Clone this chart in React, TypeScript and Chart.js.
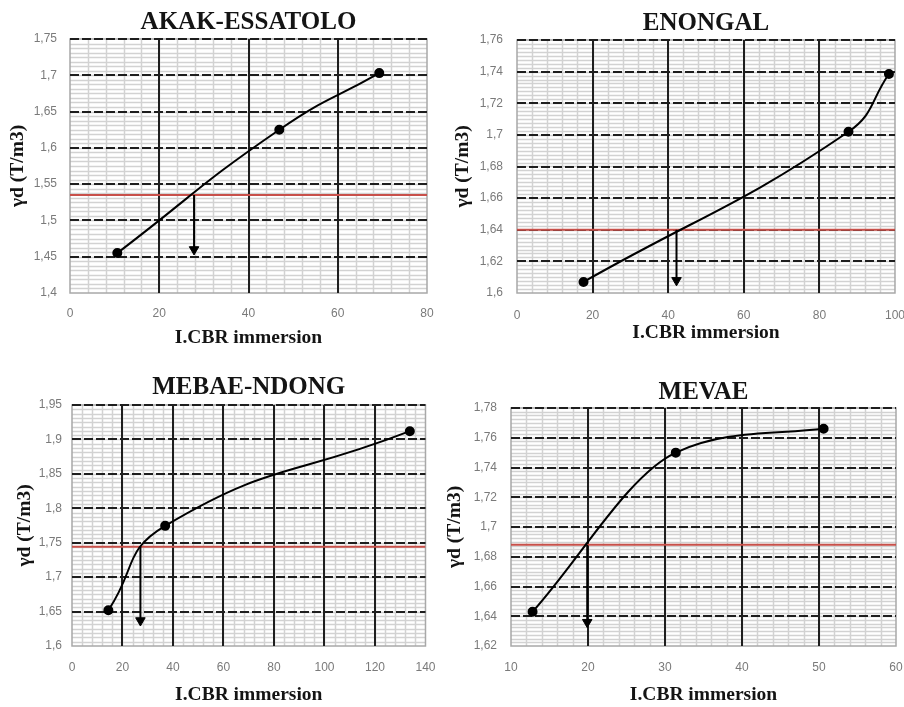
import React, { useEffect, useRef } from 'react';
import { Chart, registerables } from 'chart.js';

Chart.register(...registerables);

// ---------- DATA ----------
// AKAK-ESSATOLO
const akakCbr = [10.6, 46.9, 69.3];
const akakDensity = [1.455, 1.625, 1.703];
const akakRefLine = [1.535]; // horizontal reference density
const akakArrow = [27.8, 1.46]; // [CBR read, arrow end density]
const akakXTicks = [0, 20, 40, 60, 80];
const akakYTicks = [1.4, 1.45, 1.5, 1.55, 1.6, 1.65, 1.7, 1.75];

// ENONGAL
const enongalCbr = [17.6, 87.7, 98.4];
const enongalDensity = [1.607, 1.702, 1.7385];
const enongalRefLine = [1.64];
const enongalArrow = [42.2, 1.608];
const enongalXTicks = [0, 20, 40, 60, 80, 100];
const enongalYTicks = [1.6, 1.62, 1.64, 1.66, 1.68, 1.7, 1.72, 1.74, 1.76];

// MEBAE-NDONG
const mebaeCbr = [14.4, 36.9, 133.8];
const mebaeDensity = [1.652, 1.7745, 1.912];
const mebaeRefLine = [1.744];
const mebaeArrow = [27.1, 1.637];
const mebaeXTicks = [0, 20, 40, 60, 80, 100, 120, 140];
const mebaeYTicks = [1.6, 1.65, 1.7, 1.75, 1.8, 1.85, 1.9, 1.95];

// MEVAE
const mevaeCbr = [12.8, 31.4, 50.6];
const mevaeDensity = [1.643, 1.75, 1.766];
const mevaeRefLine = [1.688];
const mevaeArrow = [19.9, 1.636];
const mevaeXTicks = [10, 20, 30, 40, 50, 60];
const mevaeYTicks = [1.62, 1.64, 1.66, 1.68, 1.7, 1.72, 1.74, 1.76, 1.78];

const X_TITLE = 'I.CBR immersion';
const Y_TITLE = 'γd (T/m3)';

// ---------- LAYOUT ----------
const panels = [
  {
    title: 'AKAK-ESSATOLO', cbr: akakCbr, density: akakDensity, ref: akakRefLine, arrow: akakArrow,
    xTicks: akakXTicks, yTicks: akakYTicks, mode: 'default', tension: 0.5,
    box: { left: 0, top: 0, width: 450, height: 350 },
    yWidth: 70, padRight: 23, titleTop: 8, titleBottom: 1, xHeight: 57,
    xTickPad: 13, xTitlePb: 0.3, yTitlePt: 6.5, yTickPad: 13, xSub: 5, ySub: 8,
  },
  {
    title: 'ENONGAL', cbr: enongalCbr, density: enongalDensity, ref: enongalRefLine, arrow: enongalArrow,
    xTicks: enongalXTicks, yTicks: enongalYTicks, mode: 'default', tension: 0.45,
    box: { left: 450, top: 0, width: 470, height: 350 },
    yWidth: 67, padRight: 24, titleTop: 8.5, titleBottom: 1.5, xHeight: 57,
    xTickPad: 15, xTitlePb: 5, yTitlePt: 1.2, yTickPad: 14, xSub: 5, ySub: 8,
  },
  {
    title: 'MEBAE-NDONG', cbr: mebaeCbr, density: mebaeDensity, ref: mebaeRefLine, arrow: mebaeArrow,
    xTicks: mebaeXTicks, yTicks: mebaeYTicks, mode: 'default', tension: 0.5,
    box: { left: 0, top: 360, width: 450, height: 347 },
    yWidth: 72, padRight: 22, titleTop: 12.7, titleBottom: 2.3, xHeight: 61,
    xTickPad: 14.5, xTitlePb: 0, yTitlePt: 13.2, yTickPad: 10, xSub: 5, ySub: 8,
  },
  {
    title: 'MEVAE', cbr: mevaeCbr, density: mevaeDensity, ref: mevaeRefLine, arrow: mevaeArrow,
    xTicks: mevaeXTicks, yTicks: mevaeYTicks, mode: 'monotone', tension: 0.5,
    box: { left: 440, top: 360, width: 480, height: 347 },
    yWidth: 71, padRight: 24, titleTop: 18, titleBottom: 0, xHeight: 61,
    xTickPad: 14.5, xTitlePb: 0, yTitlePt: 3.2, yTickPad: 14, xSub: 5, ySub: 8,
  },
];

const fmt = (v: number) => String(Math.round(v * 1000) / 1000).replace('.', ',');

const minorGridPlugin = {
  id: 'minorGrid',
  beforeDraw(chart: any, _args: any, opts: any) {
    const { ctx, chartArea: a } = chart;
    const xs = chart.scales.x;
    const ys = chart.scales.y;
    ctx.save();
    ctx.strokeStyle = '#d2d2d2';
    ctx.lineWidth = 1.5;
    const xStep = opts.xMajor / opts.xSub;
    const nx = Math.round((xs.max - xs.min) / xStep);
    for (let i = 1; i < nx; i++) {
      const px = Math.round(xs.getPixelForValue(xs.min + i * xStep)) + 0.5;
      ctx.beginPath();
      ctx.moveTo(px, a.top);
      ctx.lineTo(px, a.bottom);
      ctx.stroke();
    }
    const yStep = opts.yMajor / opts.ySub;
    const ny = Math.round((ys.max - ys.min) / yStep);
    for (let i = 1; i < ny; i++) {
      const py = Math.round(ys.getPixelForValue(ys.min + i * yStep)) + 0.5;
      ctx.beginPath();
      ctx.moveTo(a.left, py);
      ctx.lineTo(a.right, py);
      ctx.stroke();
    }
    ctx.strokeStyle = '#a8a8a8';
    ctx.lineWidth = 1.5;
    ctx.strokeRect(a.left, a.top, a.right - a.left, a.bottom - a.top);
    ctx.restore();
  },
};

function Panel({ p }: { p: any }) {
  const ref = useRef<HTMLCanvasElement>(null);
  useEffect(() => {
    const canvas = ref.current!;
    const xMin = p.xTicks[0];
    const xMax = p.xTicks[p.xTicks.length - 1];
    const yMin = p.yTicks[0];
    const yMax = p.yTicks[p.yTicks.length - 1];
    const tickFont = { family: 'Liberation Sans', size: 12 };
    const titleFont = { family: 'Liberation Serif', size: 19.5, weight: 'bold' as const, lineHeight: 1.2 };
    const chart = new Chart(canvas, {
      type: 'scatter',
      data: {
        datasets: [
          {
            data: p.cbr.map((x: number, i: number) => ({ x, y: p.density[i] })),
            showLine: true,
            borderColor: '#000',
            borderWidth: 2,
            tension: p.tension,
            cubicInterpolationMode: p.mode,
            pointRadius: 4,
            pointBackgroundColor: '#000',
            pointBorderColor: '#000',
          },
          {
            data: [
              { x: p.arrow[0], y: p.ref[0] },
              { x: p.arrow[0], y: p.arrow[1] },
            ],
            showLine: true,
            borderColor: '#000',
            borderWidth: 2,
            pointStyle: 'triangle',
            rotation: 180,
            pointRadius: [0, 5.5],
            pointBackgroundColor: '#000',
            pointBorderColor: '#000',
            pointBorderWidth: 1,
          },
          {
            data: [
              { x: xMin, y: p.ref[0] },
              { x: xMax, y: p.ref[0] },
            ],
            showLine: true,
            borderColor: '#c8504a',
            borderWidth: 2,
            pointRadius: 0,
          },
        ],
      },
      options: {
        responsive: false,
        animation: false,
        events: [],
        layout: { padding: { left: 0, right: p.padRight, top: 0, bottom: 0 } },
        plugins: {
          legend: { display: false },
          tooltip: { enabled: false },
          title: {
            display: true,
            fullSize: false,
            text: p.title,
            color: '#141414',
            font: { family: 'Liberation Serif', size: 25, weight: 'bold', lineHeight: 1.2 },
            padding: { top: p.titleTop, bottom: p.titleBottom },
          },
          minorGrid: {
            xMajor: p.xTicks[1] - p.xTicks[0],
            yMajor: p.yTicks[1] - p.yTicks[0],
            xSub: p.xSub,
            ySub: p.ySub,
          },
        } as any,
        scales: {
          x: {
            type: 'linear',
            min: xMin,
            max: xMax,
            afterBuildTicks: (s: any) => {
              s.ticks = p.xTicks.map((v: number) => ({ value: v }));
            },
            afterFit: (s: any) => {
              s.height = p.xHeight;
            },
            ticks: {
              font: tickFont,
              color: '#7a7a7a',
              padding: p.xTickPad,
              maxRotation: 0,
              autoSkip: false,
              callback: (v: any) => fmt(Number(v)),
            },
            grid: {
              drawTicks: false,
              lineWidth: 2,
              color: (c: any) =>
                c.tick && (c.tick.value === xMin || c.tick.value === xMax) ? 'rgba(0,0,0,0)' : '#1e1e1e',
            },
            border: { display: false },
            title: {
              display: true,
              text: X_TITLE,
              color: '#141414',
              font: titleFont,
              padding: { top: 0, bottom: p.xTitlePb },
            },
          },
          y: {
            type: 'linear',
            min: yMin,
            max: yMax,
            afterBuildTicks: (s: any) => {
              s.ticks = p.yTicks.map((v: number) => ({ value: v }));
            },
            afterFit: (s: any) => {
              s.width = p.yWidth;
            },
            ticks: {
              font: tickFont,
              color: '#7a7a7a',
              padding: p.yTickPad,
              autoSkip: false,
              callback: (v: any) => fmt(Number(v)),
            },
            grid: {
              drawTicks: false,
              lineWidth: 2,
              color: (c: any) => (c.tick && Math.abs(c.tick.value - yMin) < 1e-9 ? 'rgba(0,0,0,0)' : '#1e1e1e'),
            },
            border: { display: false, dash: [9, 3] },
            title: {
              display: true,
              text: Y_TITLE,
              color: '#141414',
              font: titleFont,
              padding: { top: p.yTitlePt, bottom: 0 },
            },
          },
        },
      } as any,
      plugins: [minorGridPlugin],
    });
    return () => chart.destroy();
  }, []);
  return (
    <canvas
      ref={ref}
      width={p.box.width}
      height={p.box.height}
      style={{
        position: 'absolute',
        left: p.box.left,
        top: p.box.top,
        width: p.box.width,
        height: p.box.height,
      }}
    />
  );
}

export default function App() {
  return (
    <div
      style={{
        position: 'absolute',
        left: 0,
        top: 0,
        width: 904,
        height: 707,
        overflow: 'hidden',
        background: '#fff',
      }}
    >
      {panels.map((p) => (
        <Panel key={p.title} p={p} />
      ))}
    </div>
  );
}
